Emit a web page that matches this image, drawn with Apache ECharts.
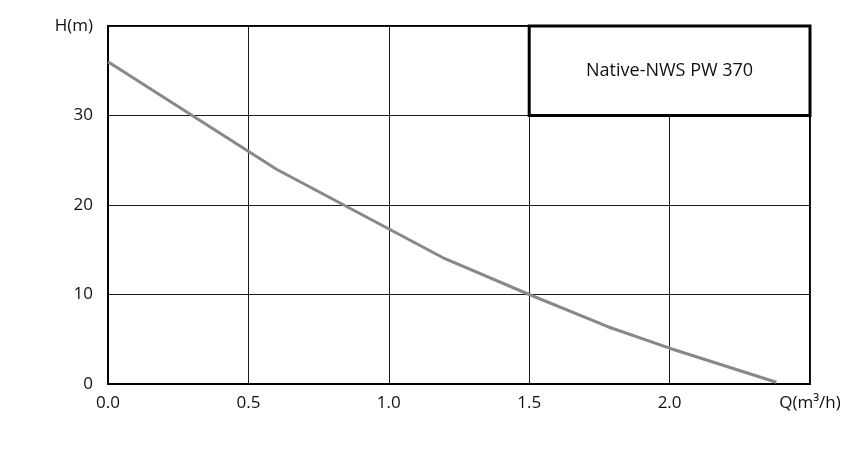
<!DOCTYPE html>
<html><head><meta charset="utf-8">
<script src="https://cdn.jsdelivr.net/npm/echarts@6/dist/echarts.min.js"></script>
<style>html,body{margin:0;padding:0;background:#fff}#c{width:857px;height:450px}</style>
</head><body><div id="c"></div>
<script>
var flowQ = [0, 0.6, 1.2, 1.5, 1.78, 2.0, 2.38];
var headH = [36, 24, 14, 10, 6.4, 4.0, 0.2];
var xTicks = ['0.0', '0.5', '1.0', '1.5', '2.0', 'Q(m³/h)'];
var yTicks = ['0', '10', '20', '30', 'H(m)'];
var modelName = 'Native-NWS PW 370';
var boxFrom = [1.5, 30], boxTo = [2.5, 40];

var font = '"Open Sans", "Noto Sans", sans-serif';
var chart = echarts.init(document.getElementById('c'));
chart.setOption({
  animation: false,
  grid: {left: 108, right: 47, top: 26, bottom: 66, show: true, borderColor: '#000', borderWidth: 2, backgroundColor: 'transparent'},
  xAxis: {
    type: 'value', min: 0, max: 2.5, interval: 0.5,
    axisLine: {show: true, lineStyle: {color: '#000', width: 2}},
    axisTick: {show: false},
    splitLine: {show: true, lineStyle: {color: '#1a1a1a', width: 1}},
    axisLabel: {margin: 11, fontSize: 17, color: '#111', fontFamily: font,
      formatter: function (v) { return xTicks[Math.round(v / 0.5)]; }}
  },
  yAxis: {
    type: 'value', min: 0, max: 40, interval: 10,
    axisLine: {show: true, lineStyle: {color: '#000', width: 2}},
    axisTick: {show: false},
    splitLine: {show: true, lineStyle: {color: '#1a1a1a', width: 1}},
    axisLabel: {margin: 15, fontSize: 17, color: '#111', fontFamily: font,
      formatter: function (v) { return yTicks[Math.round(v / 10)]; }}
  },
  series: [{
    type: 'line',
    data: flowQ.map(function (q, i) { return [q, headH[i]]; }),
    showSymbol: false, smooth: false,
    lineStyle: {color: '#888', width: 3},
    markArea: {
      silent: true,
      itemStyle: {color: '#fff', borderColor: '#000', borderWidth: 3},
      label: {show: true, position: 'inside', color: '#111', fontSize: 18, fontFamily: font},
      data: [[{name: modelName, coord: boxFrom}, {coord: boxTo}]]
    }
  }]
});
</script></body></html>
